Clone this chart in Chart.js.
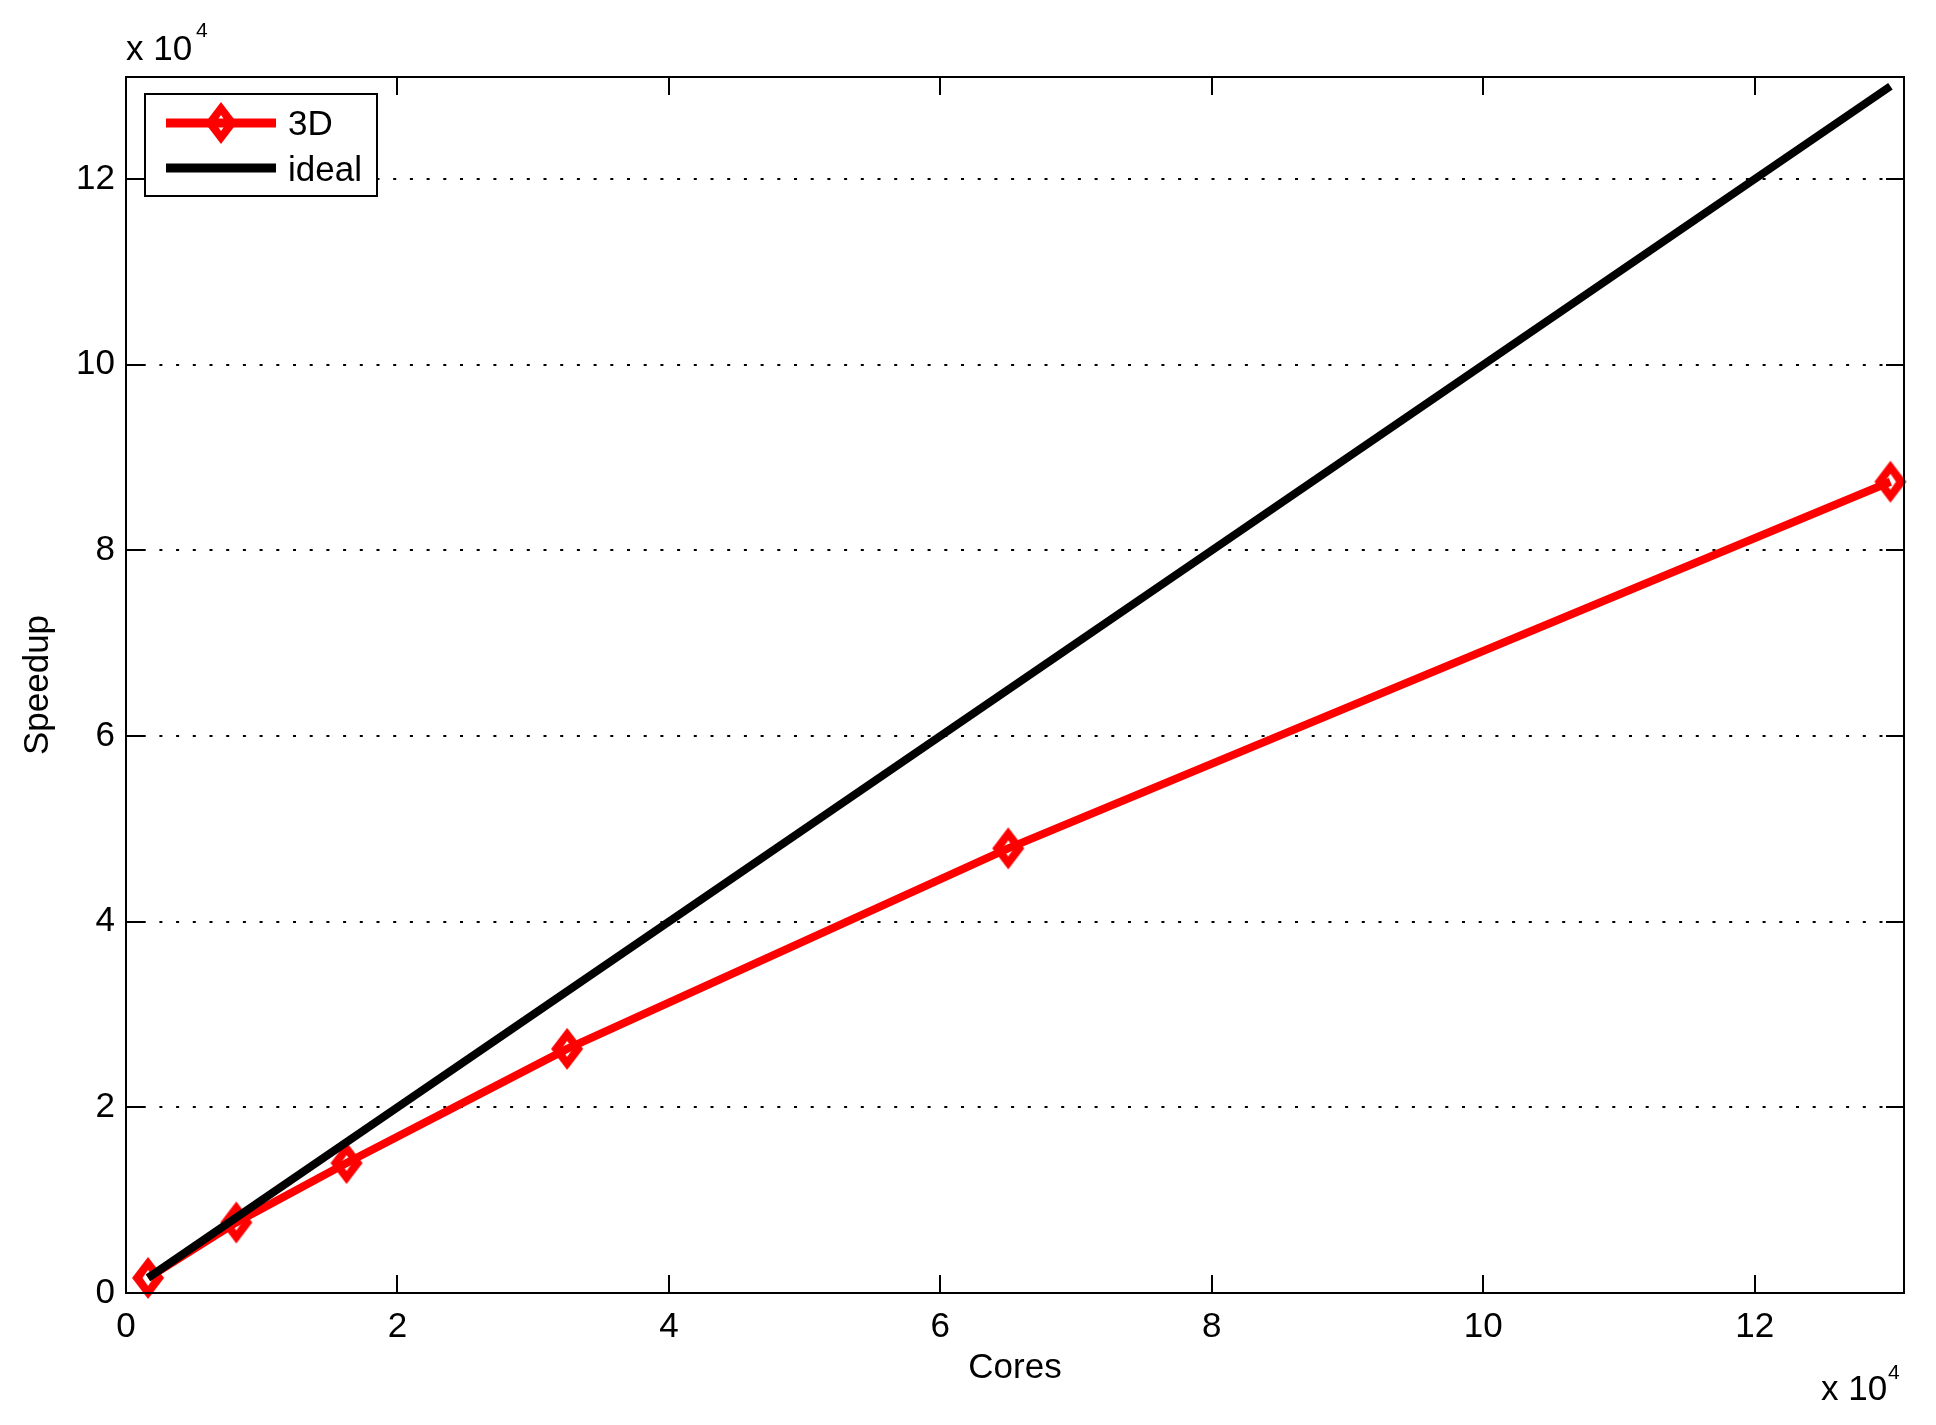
<!DOCTYPE html>
<html lang="en">
<head>
  <meta charset="UTF-8">
  <title>Speedup</title>
  <script src="https://cdn.jsdelivr.net/npm/chart.js"></script>
  <style>
    body { margin: 0; background: #fff; }
    #speedup-chart { display: block; }
  </style>
</head>
<body>

<canvas id="speedup-chart" width="1936" height="1425"></canvas>

<script>
  // data (cores, speedup)
  const cores = [1625, 8125, 16250, 32500, 65000, 130000];
  const speedup3D = [1625, 7600, 14000, 26300, 47900, 87400];
  const idealCores = [1625, 130000];
  const idealSpeedup = [1625, 130000];

  const xTicks = [0, 20000, 40000, 60000, 80000, 100000, 120000];
  const yTicks = [0, 20000, 40000, 60000, 80000, 100000, 120000];
  const axisMax = 131000;

  const FONT = "'Liberation Sans', Arial, sans-serif";
  const FS = 35;

  // diamond marker (taller than wide, hollow)
  function makeDiamond() {
    const c = document.createElement('canvas');
    c.width = 34;
    c.height = 44;
    const g = c.getContext('2d');
    const cx = 17, cy = 22;
    g.fillStyle = '#ff0000';
    g.beginPath();
    g.moveTo(cx, cy - 21); g.lineTo(cx + 16, cy); g.lineTo(cx, cy + 21); g.lineTo(cx - 16, cy);
    g.closePath();
    g.fill();
    g.globalCompositeOperation = 'destination-out';
    g.beginPath();
    g.moveTo(cx, cy - 8); g.lineTo(cx + 5.5, cy); g.lineTo(cx, cy + 8); g.lineTo(cx - 5.5, cy);
    g.closePath();
    g.fill();
    return c;
  }
  const diamond = makeDiamond();

  // box, inward ticks, legend, exponent labels
  const decorPlugin = {
    id: 'decor',
    afterDatasetsDraw(chart) {
      const ctx = chart.ctx;
      const a = chart.chartArea;
      const xs = chart.scales.x;
      const ys = chart.scales.y;
      const tl = 18;

      ctx.save();
      ctx.strokeStyle = '#000';
      ctx.lineWidth = 2;

      // ticks pointing inward on all four sides
      ctx.beginPath();
      xTicks.forEach(v => {
        const px = Math.round(xs.getPixelForValue(v));
        ctx.moveTo(px, a.bottom); ctx.lineTo(px, a.bottom - tl);
        ctx.moveTo(px, a.top); ctx.lineTo(px, a.top + tl);
      });
      yTicks.forEach(v => {
        const py = Math.round(ys.getPixelForValue(v));
        ctx.moveTo(a.left, py); ctx.lineTo(a.left + tl, py);
        ctx.moveTo(a.right, py); ctx.lineTo(a.right - tl, py);
      });
      ctx.stroke();

      // axes box
      ctx.strokeRect(a.left, a.top, a.right - a.left, a.bottom - a.top);

      // legend
      const lx = 145, ly = 94, lw = 232, lh = 102;
      ctx.fillStyle = '#fff';
      ctx.fillRect(lx, ly, lw, lh);
      ctx.strokeRect(lx, ly, lw, lh);

      ctx.lineWidth = 9;
      ctx.strokeStyle = '#ff0000';
      ctx.beginPath(); ctx.moveTo(166, 123); ctx.lineTo(276, 123); ctx.stroke();
      ctx.drawImage(diamond, 221 - diamond.width / 2, 123 - diamond.height / 2);
      ctx.strokeStyle = '#000';
      ctx.beginPath(); ctx.moveTo(166, 168); ctx.lineTo(276, 168); ctx.stroke();

      ctx.fillStyle = '#000';
      ctx.textAlign = 'left';
      ctx.textBaseline = 'alphabetic';
      ctx.font = FS + 'px ' + FONT;
      ctx.fillText('3D', 288, 135);
      ctx.fillText('ideal', 288, 181);

      // exponent labels
      ctx.fillText('x 10', 126, 60);
      ctx.fillText('x 10', 1821, 1400);
      ctx.font = '21px ' + FONT;
      ctx.fillText('4', 196, 37);
      ctx.fillText('4', 1888, 1379);

      ctx.restore();
    }
  };

  const ctx = document.getElementById('speedup-chart').getContext('2d');

  new Chart(ctx, {
    type: 'line',
    data: {
      datasets: [
        {
          label: '3D',
          data: cores.map((c, i) => ({ x: c, y: speedup3D[i] })),
          borderColor: '#ff0000',
          borderWidth: 8,
          pointStyle: diamond,
          pointRadius: 10,
          pointHoverRadius: 10,
          tension: 0,
          clip: 12,
          order: 2
        },
        {
          label: 'ideal',
          data: idealCores.map((c, i) => ({ x: c, y: idealSpeedup[i] })),
          borderColor: '#000',
          borderWidth: 8,
          pointRadius: 0,
          tension: 0,
          borderCapStyle: 'butt',
          order: 1
        }
      ]
    },
    options: {
      responsive: false,
      animation: false,
      layout: { padding: { left: 0, right: 32, top: 77, bottom: 0 } },
      plugins: {
        legend: { display: false },
        tooltip: { enabled: false }
      },
      scales: {
        x: {
          type: 'linear',
          min: 0,
          max: axisMax,
          afterBuildTicks: (scale) => { scale.ticks = xTicks.map(v => ({ value: v })); },
          afterFit: (scale) => { scale.height = 132; },
          grid: { display: false, drawTicks: false },
          border: { display: false },
          ticks: {
            padding: 13,
            color: '#000',
            font: { family: FONT, size: FS },
            callback: (v) => v / 10000
          },
          title: {
            display: true,
            text: 'Cores',
            color: '#000',
            font: { family: FONT, size: FS },
            padding: { top: 0, bottom: 36 }
          }
        },
        y: {
          type: 'linear',
          min: 0,
          max: axisMax,
          afterBuildTicks: (scale) => { scale.ticks = yTicks.map(v => ({ value: v })); },
          afterFit: (scale) => { scale.width = 126; },
          grid: {
            drawTicks: false,
            lineWidth: 2,
            color: (c) => (c.tick && c.tick.value === 0) ? 'rgba(0,0,0,0)' : '#000'
          },
          border: { display: false, dash: [3, 13.7] },
          ticks: {
            padding: 11,
            color: '#000',
            font: { family: FONT, size: FS },
            callback: (v) => v / 10000
          },
          title: {
            display: true,
            text: 'Speedup',
            color: '#000',
            font: { family: FONT, size: FS },
            padding: { top: 17, bottom: 0 }
          }
        }
      }
    },
    plugins: [decorPlugin]
  });
</script>

</body>
</html>
